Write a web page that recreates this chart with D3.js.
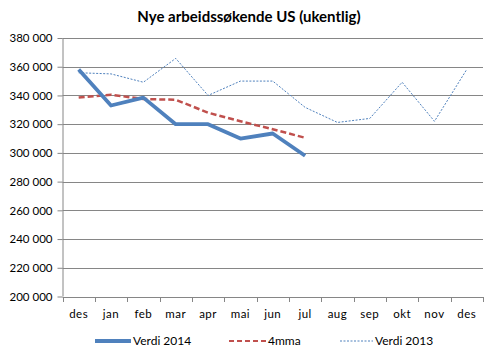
<!DOCTYPE html>
<html><head><meta charset="utf-8">
<script src="https://cdn.jsdelivr.net/npm/d3@7"></script>
<style>body{margin:0;background:#fff}svg{display:block}</style>
</head><body>
<svg id="c" width="498" height="356"></svg>
<script>
const categories = ["des","jan","feb","mar","apr","mai","jun","jul","aug","sep","okt","nov","des"];
const verdi2014 = [358000,333000,338500,320000,320000,310000,313500,298000];
const mma4 = [338500,340500,337500,337000,328000,322000,316500,310500];
const verdi2013 = [355800,355000,349200,365800,340000,350000,350000,331700,321200,324000,349200,322000,358200];
const yTicks = [200000,220000,240000,260000,280000,300000,320000,340000,360000,380000];
const title = "Nye arbeidssøkende US (ukentlig)";
const seriesNames = ["Verdi 2014","4mma","Verdi 2013"];

const font = "Lato, 'Open Sans', sans-serif";
const svg = d3.select("#c");
const L = 62.5, R = 483, T = 38, B = 296.5;
const x = d3.scaleBand().domain(d3.range(categories.length)).range([L, R]);
const y = d3.scaleLinear().domain([200000, 380000]).range([B, T]);

svg.append("text").attr("x", 249).attr("y", 22).attr("text-anchor","middle")
  .attr("font-family", font).attr("font-weight","bold").attr("font-size", 15).attr("fill","#000").text(title);

// gridlines
svg.append("g").selectAll("line").data(yTicks.filter(d=>d>200000)).join("line")
  .attr("x1", L).attr("x2", R).attr("y1", d=>Math.round(y(d))+0.5).attr("y2", d=>Math.round(y(d))+0.5)
  .attr("stroke","#868686").attr("stroke-width",1);

const ya = svg.append("g").attr("transform", `translate(${L},0)`)
  .call(d3.axisLeft(y).tickValues(yTicks).tickSize(5).tickPadding(5).tickFormat(d=>d3.format(",")(d).replace(/,/g," ")));
ya.select(".domain").attr("stroke","#868686").attr("d", `M0.5,${T}V${B}`);
ya.selectAll(".tick line").attr("stroke","#868686");
ya.selectAll(".tick text").attr("font-family", font).attr("font-size", 11.5).attr("fill","#000");

const xa = svg.append("g").attr("transform", `translate(0,${Math.round(B)+0.5})`)
  .call(d3.axisBottom(x).tickValues([]).tickSize(0));
xa.select(".domain").attr("stroke","#868686").attr("d", `M${L},0H${R}`);
const edges = d3.range(categories.length+1).map(i => L + i*x.step());
svg.append("g").selectAll("line").data(edges).join("line")
  .attr("x1", d=>Math.round(d)+0.5).attr("x2", d=>Math.round(d)+0.5)
  .attr("y1", Math.round(B)).attr("y2", Math.round(B)+5).attr("stroke","#868686");
svg.append("g").selectAll("text").data(categories).join("text")
  .attr("x", (d,i)=>x(i)+x.bandwidth()/2).attr("y", 318).attr("text-anchor","middle")
  .attr("font-family", font).attr("font-size", 11.5).attr("letter-spacing", 0.5).attr("fill","#000").text(d=>d);

const cx = i => x(i) + x.bandwidth()/2;
const line = d3.line().x((d,i)=>cx(i)).y(d=>y(d));
svg.append("path").attr("d", line(verdi2013)).attr("fill","none")
  .attr("stroke","#4F81BD").attr("stroke-width",1).attr("stroke-dasharray","2,1.5");
svg.append("path").attr("d", line(mma4)).attr("fill","none")
  .attr("stroke","#C0504D").attr("stroke-width",2.5).attr("stroke-dasharray","6,3");
svg.append("path").attr("d", line(verdi2014)).attr("fill","none")
  .attr("stroke","#4F81BD").attr("stroke-width",3.8).attr("stroke-linejoin","round");

// legend
const lg = svg.append("g").attr("font-family", font).attr("font-size", 12);
const items = [
  {name: seriesNames[0], x1: 95, x2: 131, tx: 133, color:"#4F81BD", w:3.8, dash:null},
  {name: seriesNames[1], x1: 229, x2: 266, tx: 268, color:"#C0504D", w:2, dash:"5,3"},
  {name: seriesNames[2], x1: 340, x2: 373, tx: 375, color:"#4F81BD", w:1, dash:"2,1.5"}
];
items.forEach(it => {
  lg.append("line").attr("x1", it.x1).attr("x2", it.x2).attr("y1", 341).attr("y2", 341)
    .attr("stroke", it.color).attr("stroke-width", it.w).attr("stroke-dasharray", it.dash);
  lg.append("text").attr("x", it.tx).attr("y", 345).attr("fill","#000").text(it.name);
});
</script>
</body></html>
